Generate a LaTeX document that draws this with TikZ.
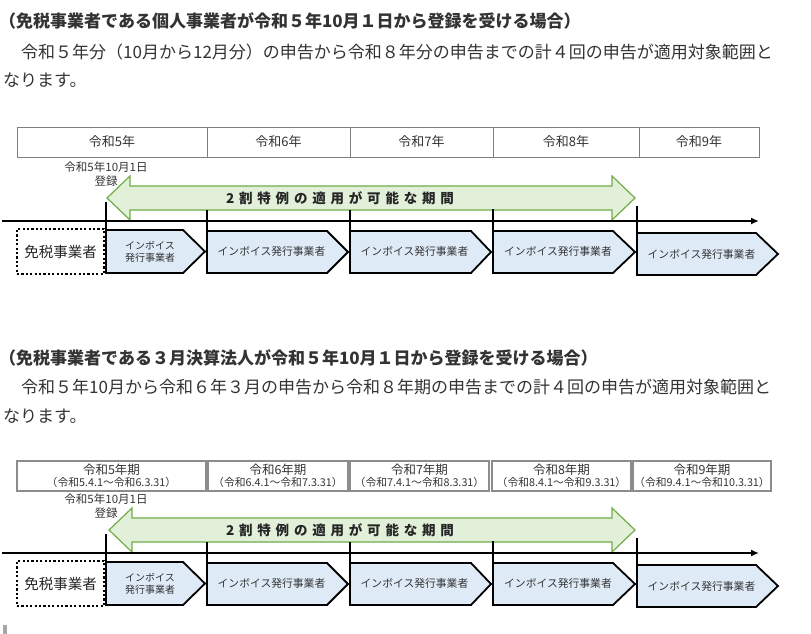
\documentclass[tikz,border=0pt]{standalone}
\usepackage{fontspec}
\setmainfont{Noto Sans CJK JP}
\usetikzlibrary{arrows.meta}
\definecolor{txt}{HTML}{333333}
\definecolor{gfill}{HTML}{E2F0D9}
\definecolor{gline}{HTML}{70AD47}
\definecolor{bfill}{HTML}{DEEBF7}
\definecolor{ygray}{HTML}{7F7F7F}
\definecolor{ygraytwo}{HTML}{8C8C8C}
\definecolor{markgray}{HTML}{A6A6A6}
\tikzset{
  para/.style={anchor=base west, inner sep=0pt, font=\fontsize{17}{20}\selectfont, text=txt},
  head/.style={para, font=\fontsize{17}{20}\selectfont\bfseries},
  yearbox/.style={draw=ygray, line width=0.9pt, inner sep=0pt, minimum height=30pt, font=\fontsize{13}{15}\selectfont, text=txt},
  yboxtwo/.style={draw=ygraytwo, line width=1.3pt, inner sep=0pt, minimum height=30pt, align=center, font=\fontsize{12.5}{12}\selectfont, text=txt},
  datel/.style={inner sep=0pt, font=\fontsize{11.5}{13}\selectfont, text=txt},
  garrow/.style={draw=gline, fill=gfill, line width=1.2pt, line join=miter},
  gtext/.style={inner sep=0pt, font=\fontsize{13.5}{15}\selectfont\bfseries, text=black!85},
  tickline/.style={line width=1.8pt, black},
  tline/.style={line width=1.8pt, black, -{Latex[length=8pt,width=7pt]}},
  chev/.style={draw=black, fill=bfill, line width=1.8pt, line join=miter},
  ctext/.style={inner sep=0pt, font=\fontsize{10.8}{12}\selectfont, text=txt},
  ctextone/.style={inner sep=0pt, align=center, font=\fontsize{10}{11.5}\selectfont, text=txt},
  dotbox/.style={draw=black, line width=2.2pt, dash pattern=on 2.2pt off 2.2pt, minimum width=87pt, minimum height=45pt, inner sep=0pt, font=\fontsize{14.5}{16}\selectfont, text=black!85},
}
\newcommand\mytimeline[2]{%
  \node[datel] (#1date) at (106,167) {令和5年10月1日};
  \node[datel] (#1reg) at (106,181) {登録};
  \draw[garrow] ({107+#2},198) -- ({130+#2},176) -- ({130+#2},186) -- (612,186) -- (612,176) -- (635,198) -- (612,220) -- (612,210) -- ({130+#2},210) -- ({130+#2},220) -- cycle;
  \node[gtext] (#1tok) at (340,198) {2\hspace{4.8pt}割\hspace{4.8pt}特\hspace{4.8pt}例\hspace{4.8pt}の\hspace{4.8pt}適\hspace{4.8pt}用\hspace{4.8pt}が\hspace{4.8pt}可\hspace{4.8pt}能\hspace{4.8pt}な\hspace{4.8pt}期\hspace{4.8pt}間};
  \draw[tickline] (106,202) -- (106,273);
  \draw[tickline] (207,210) -- (207,273);
  \draw[tickline] (350,210) -- (350,273);
  \draw[tickline] (493,209) -- (493,273);
  \draw[tickline] (637,206) -- (637,275);
  \coordinate (#1t0) at (2,221);
  \coordinate (#1t1) at (759,221);
  \draw[tline] (#1t0) -- (#1t1);
  \node[dotbox] (#1men) at (60.5,251.5) {免税事業者};
  \draw[chev] (106,230) -- (183,230) -- (205,251.5) -- (183,273) -- (106,273) -- cycle;
  \draw[chev] (207,231) -- (327,231) -- (348,252) -- (327,273) -- (207,273) -- cycle;
  \draw[chev] (350,231) -- (471,231) -- (491,252) -- (471,273) -- (350,273) -- cycle;
  \draw[chev] (493,231) -- (613,231) -- (635,252) -- (613,273) -- (493,273) -- cycle;
  \draw[chev] (637,233) -- (756,233) -- (778,254) -- (756,275) -- (637,275) -- cycle;
  \node[ctextone] (#1c1) at (150,252) {インボイス\\発行事業者};
  \node[ctext] (#1c2) at (271.5,251) {インボイス発行事業者};
  \node[ctext] (#1c3) at (414.5,251) {インボイス発行事業者};
  \node[ctext] (#1c4) at (558,251) {インボイス発行事業者};
  \node[ctext] (#1c5) at (701.5,254) {インボイス発行事業者};
}
\begin{document}
\begin{tikzpicture}[x=1pt,y=-1pt]
\useasboundingbox (0,0) rectangle (811,634);
% section 1 text
\node[head] (h1) at (-1,28) {（免税事業者である個人事業者が令和５年10月１日から登録を受ける場合）};
\node[para] (p1) at (4,58.5) {　令和５年分（10月から12月分）の申告から令和８年分の申告までの計４回の申告が適用対象範囲と};
\node[para] (p1b) at (3,86.5) {なります。};
% year boxes 1
\node[yearbox, minimum width=190pt] (ya1) at (112,142) {令和5年};
\node[yearbox, minimum width=143pt] (ya2) at (278.5,142) {令和6年};
\node[yearbox, minimum width=143pt] (ya3) at (421.5,142) {令和7年};
\node[yearbox, minimum width=146pt] (ya4) at (566,142) {令和8年};
\node[yearbox, minimum width=120pt] (ya5) at (699,142) {令和9年};
\mytimeline{a}{0}
% section 2 text
\node[head] (h2) at (-1,364.5) {（免税事業者である３月決算法人が令和５年10月１日から登録を受ける場合）};
\node[para] (p2) at (4,393.5) {　令和５年10月から令和６年３月の申告から令和８年期の申告までの計４回の申告が適用対象範囲と};
\node[para] (p2b) at (3,422.5) {なります。};
% year boxes 2
\node[yboxtwo, minimum width=189pt] (yb1) at (111.5,476) {令和5年期\\{\fontsize{10.8}{12}\selectfont （令和5.4.1～令和6.3.31）}};
\node[yboxtwo, minimum width=140pt] (yb2) at (278,476) {令和6年期\\{\fontsize{10.8}{12}\selectfont （令和6.4.1～令和7.3.31）}};
\node[yboxtwo, minimum width=139pt] (yb3) at (419.5,476) {令和7年期\\{\fontsize{10.8}{12}\selectfont （令和7.4.1～令和8.3.31）}};
\node[yboxtwo, minimum width=139pt] (yb4) at (561.5,476) {令和8年期\\{\fontsize{10.8}{12}\selectfont （令和8.4.1～令和9.3.31）}};
\node[yboxtwo, minimum width=138pt] (yb5) at (702,476) {令和9年期\\{\fontsize{10.8}{12}\selectfont （令和9.4.1～令和10.3.31）}};
\begin{scope}[yshift=-332pt]
\mytimeline{b}{2}
\end{scope}
\fill[markgray] (3,625) rectangle (7,634);
\end{tikzpicture}
\end{document}
